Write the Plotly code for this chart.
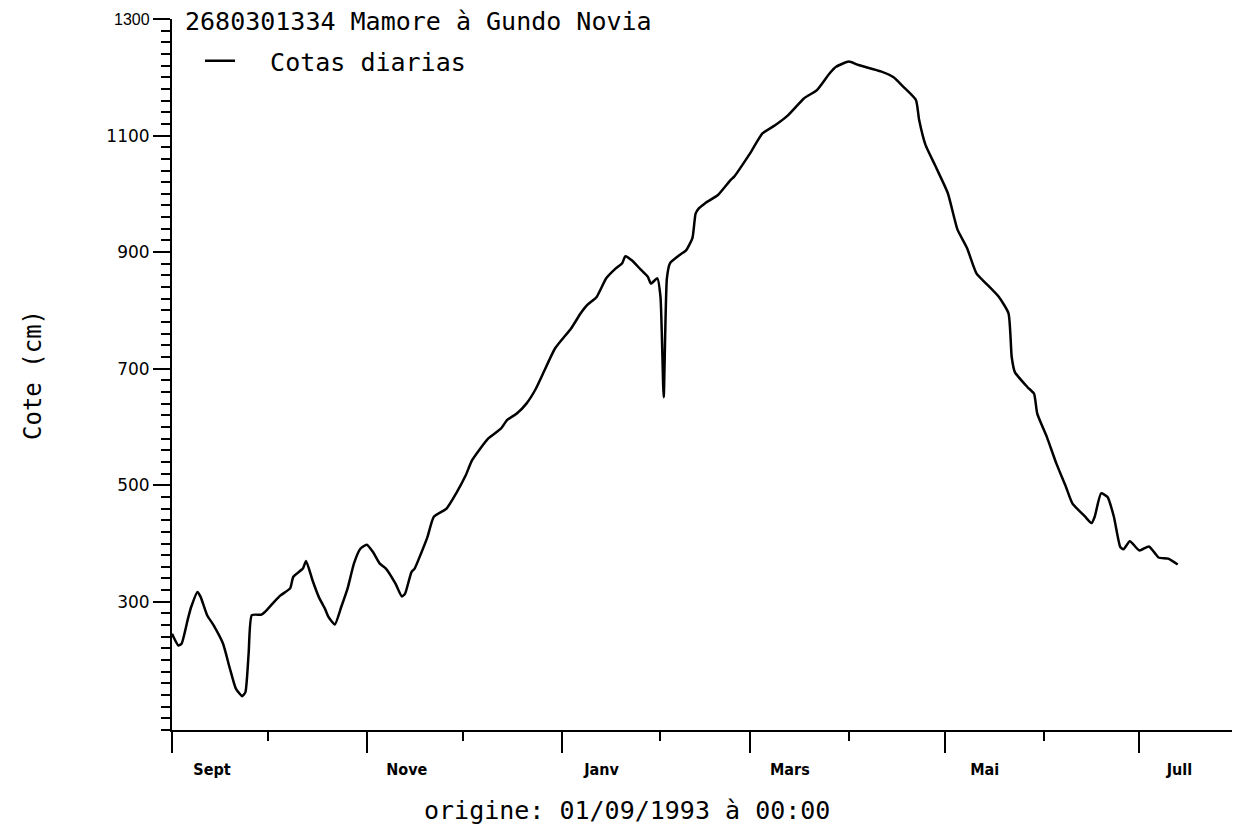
import pandas as pd
import plotly.graph_objects as go

ORIGINE = "1993-09-01"
FIN = "1994-07-30"

# Daily stage readings: days elapsed since the origin date, stage in cm
jours = [0, 2, 3, 5, 6, 8, 9, 11, 13, 16,
         18, 20, 22, 23, 24, 25, 28, 29, 32, 34,
         37, 38, 41, 42, 44, 46, 48, 49, 51, 53,
         55, 57, 59, 61, 63, 65, 67, 70, 72, 73,
         75, 76, 78, 80, 82, 86, 89, 92, 94, 99,
         103, 105, 108, 111, 114, 116, 120, 125, 128, 130,
         133, 136, 139, 141, 142, 144, 147, 149, 150, 152,
         153, 154, 155, 156, 159, 161, 163, 164, 165, 167,
         171, 175, 176, 181, 185, 189, 193, 198, 202, 206,
         208, 212, 215, 222, 226, 229, 233, 234, 236, 239,
         243, 246, 249, 252, 255, 259, 262, 263, 264, 268,
         270, 271, 274, 277, 280, 282, 286, 288, 289, 291,
         293, 295, 297, 298, 300, 303, 306, 309, 312, 315]

cotes = [245, 225, 228, 271, 291, 317, 308, 277, 260, 228,
         188, 151, 138, 145, 211, 277, 278, 282, 300, 311,
         323, 343, 357, 370, 337, 308, 287, 274, 261, 291,
         323, 366, 391, 398, 385, 366, 357, 331, 309, 314,
         351, 357, 383, 411, 446, 460, 486, 517, 543, 580,
         597, 612, 623, 640, 666, 689, 735, 769, 795, 809,
         823, 855, 872, 881, 893, 886, 869, 858, 846, 855,
         823, 651, 855, 881, 895, 903, 924, 966, 975, 984,
         998, 1024, 1029, 1069, 1104, 1118, 1135, 1164, 1178, 1207,
         1218, 1227, 1221, 1210, 1200, 1184, 1161, 1127, 1084, 1049,
         1001, 939, 907, 863, 846, 823, 795, 720, 694, 668,
         657, 623, 583, 537, 497, 469, 446, 435, 446, 486,
         480, 446, 394, 390, 404, 388, 395, 376, 374, 364]

# Month ticks (labelled every second month)
mois_vals = ["1993-09-01", "1993-11-01", "1994-01-01",
             "1994-03-01", "1994-05-01", "1994-07-01"]
mois_noms = ["Sept", "Nove", "Janv", "Mars", "Mai", "Jull"]

cote_vals = [300, 500, 700, 900, 1100, 1300]
cote_noms = ["300", "500", "700", "900", "1100",
             "<span style='font-family:Liberation Sans;"
             "font-size:16px'>1300</span>"]

station = "2680301334 Mamore à Gundo Novia"
serie = "\u00a0\u00a0Cotas diarias"
origine_txt = "origine: 01/09/1993 à 00:00"
axe_y_txt = "Cote (cm)"

dates = pd.to_datetime(ORIGINE) + pd.to_timedelta(jours, unit="D")

MONO = "DejaVu Sans Mono"

fig = go.Figure()
fig.add_trace(go.Scatter(
    x=dates, y=cotes, mode="lines", name=serie,
    line=dict(color="black", width=2.5, shape="spline", smoothing=0.5),
))

fig.update_layout(
    width=1236, height=834,
    margin=dict(l=172, r=4, t=19, b=104),
    paper_bgcolor="white", plot_bgcolor="white",
    showlegend=True,
    legend=dict(
        x=(200 - 172) / 1060, xanchor="left",
        y=(730 - 61) / 711, yanchor="middle",
        font=dict(family=MONO, size=25, color="black"),
        bgcolor="rgba(0,0,0,0)", borderwidth=0,
        itemwidth=30,
    ),
    font=dict(family=MONO, color="black"),
)

fig.update_xaxes(
    type="date", range=[ORIGINE, FIN],
    tickmode="array", tickvals=mois_vals, ticktext=mois_noms,
    ticks="outside", ticklen=21, tickwidth=2, tickcolor="black",
    minor=dict(ticks="outside", ticklen=9, tickwidth=2, tickcolor="black",
               dtick="M1", tick0=ORIGINE),
    ticklabelshift=40, ticklabelstandoff=3,
    tickfont=dict(family="DejaVu Sans Condensed, DejaVu Sans", size=16,
                  color="black", weight="bold"),
    showline=True, linewidth=2, linecolor="black",
    showgrid=False, zeroline=False,
)

fig.update_yaxes(
    range=[80, 1300],
    tickmode="array", tickvals=cote_vals, ticktext=cote_noms,
    ticks="outside", ticklen=17, tickwidth=2, tickcolor="black",
    minor=dict(ticks="outside", ticklen=9, tickwidth=2, tickcolor="black",
               dtick=20, tick0=80),
    tickfont=dict(family="DejaVu Sans", size=17, color="black"),
    showline=True, linewidth=2, linecolor="black",
    showgrid=False, zeroline=False,
)

fig.add_annotation(
    text=station, xref="paper", yref="paper",
    x=(183 - 172) / 1060, xanchor="left",
    y=(730 - 22) / 711, yanchor="middle",
    showarrow=False, font=dict(family=MONO, size=25, color="black"),
)
fig.add_annotation(
    text=origine_txt, xref="paper", yref="paper",
    x=(627 - 172) / 1060, xanchor="center",
    y=(730 - 810) / 711, yanchor="middle",
    showarrow=False, font=dict(family=MONO, size=25, color="black"),
)
fig.add_annotation(
    text=axe_y_txt, xref="paper", yref="paper",
    x=(33 - 172) / 1060, xanchor="center",
    y=(730 - 375) / 711, yanchor="middle", textangle=-90,
    showarrow=False, font=dict(family=MONO, size=24, color="black"),
)

fig.write_html("out.html")
